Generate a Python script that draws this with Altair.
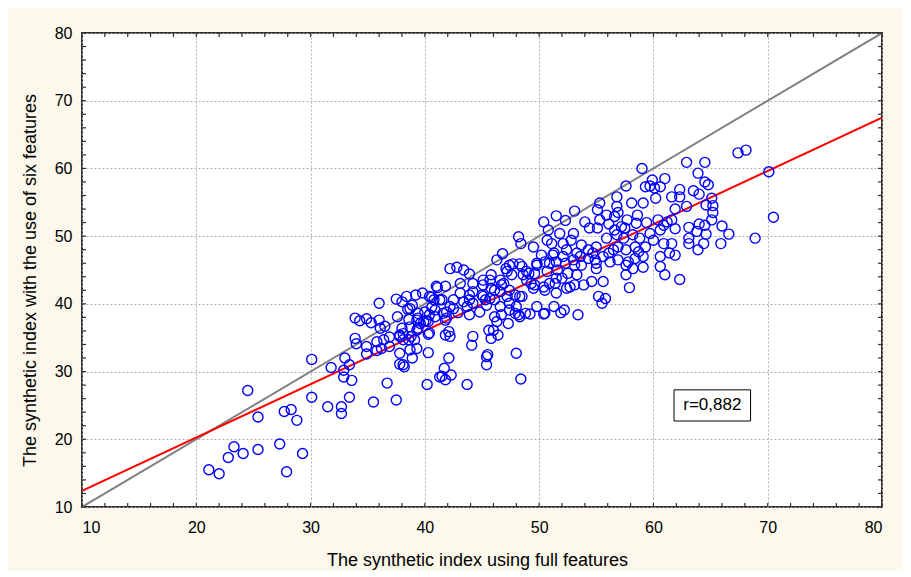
import altair as alt
import pandas as pd

# ---- scatter data (full features index, six-features index) ----
full_idx = [
21.1,22.0,22.8,23.3,24.1,24.5,25.4,25.4,27.3,27.7,28.3,28.8,27.9,29.3,30.1,30.1,31.5,31.8,32.7,32.7,
33.4,33.6,32.9,32.9,33.0,33.4,35.5,36.7,37.5,40.2,40.3,37.8,38.2,37.8,38.9,39.3,34.9,34.9,35.8,36.2,
36.9,33.9,34.0,36.4,36.9,37.8,38.6,39.1,40.3,41.3,
33.9,34.3,34.9,35.3,36.0,36.0,36.1,36.5,37.5,38.0,37.6,38.0,38.1,38.5,38.6,38.9,39.2,39.4,39.6,39.3,
39.8,40.0,40.1,40.4,40.4,41.0,41.8,40.8,41.5,40.9,40.9,41.6,41.8,42.1,41.8,42.2,42.1,41.7,41.5,41.8,
42.3,43.7,42.2,42.8,43.4,43.9,44.2,44.2,43.1,43.4,42.5,42.9,43.7,44.2,44.8,45.0,45.1,44.2,44.1,45.4,
45.4,45.6,
46.3,46.8,47.7,47.1,47.2,48.3,48.2,48.4,49.5,50.4,51.5,50.7,51.1,51.8,52.1,50.2,49.8,50.5,51.3,51.5,
52.1,48.9,49.6,50.7,51.5,51.4,50.5,49.6,49.5,49.8,50.5,51.3,52.2,52.4,45.1,45.7,45.8,46.6,46.9,46.1,
45.7,45.3,43.9,45.4,46.6,47.2,47.9,48.3,47.4,47.9,48.3,48.8,46.7,46.3,47.3,46.0,46.4,45.8,45.5,48.0,
48.4,41.9,40.4,39.9,39.3,39.4,38.8,38.1,38.4,40.6,41.1,41.3,42.2,38.7,39.4,43.1,
59.0,62.9,57.6,56.8,58.1,59.1,59.3,59.9,60.1,60.6,61.0,60.2,61.6,62.3,62.9,61.9,61.6,61.2,60.6,60.4,
59.4,58.6,57.7,56.9,56.8,55.1,55.3,55.3,56.1,55.1,54.4,53.1,52.3,50.8,53.0,53.7,52.8,51.2,52.4,53.3,
54.3,55.0,55.9,56.8,57.5,57.4,58.2,58.8,58.7,59.3,60.0,60.9,61.6,63.1,60.6,60.6,61.0,62.3,59.1,58.2,
57.6,57.6,57.9,56.2,55.6,54.9,55.0,54.3,53.7,53.3,52.5,51.6,52.3,53.1,54.6,55.6,53.9,53.1,52.7,51.5,
55.2,55.8,55.5,53.4,48.5,48.5,49.8,50.9,
67.4,68.1,70.1,70.5,68.9,66.6,66.0,65.9,64.5,63.9,64.5,64.8,63.5,64.0,65.1,64.6,65.2,65.2,65.1,64.5,
64.6,64.0,63.8,63.1,63.1,64.4,63.9,
51.9,50.4,49.2,
47.4,47.6,48.6,49.1,45.8,46.7,46.6,47.4,48.9,49.3,50.4,50.9,52.0,43.9,45.1,46.1,42.5,40.6,41.9,43.9,
46.1,47.4,48.0,48.2,
37.8,38.7,40.3,38.1,35.8,38.7,
59.7,62.3,55.9,56.6,58.5,57.2,56.6,54.0,60.9,61.9,59.7,58.4,57.6,56.9,56.5,56.1,54.7,53.6,53.0,59.1,
58.4,57.8,56.9,55.0,61.4,61.9,
]
six_idx = [
15.5,14.9,17.3,18.9,17.9,27.2,23.3,18.5,19.3,24.1,24.4,22.8,15.2,17.9,31.8,26.2,24.8,30.6,24.8,23.8,
26.2,28.7,30.2,29.2,32.0,31.0,25.5,28.3,25.8,28.1,32.8,31.1,30.7,32.7,32.0,33.4,32.6,33.7,33.1,33.4,
33.7,34.9,34.1,34.7,35.1,35.4,34.7,34.7,35.5,29.2,
37.9,37.5,37.8,37.2,37.6,40.1,36.4,36.7,40.7,40.3,38.1,36.4,35.6,39.2,37.7,39.8,41.3,37.9,37.1,36.1,
41.6,38.8,37.5,41.1,35.7,42.6,42.6,40.6,40.6,39.1,38.1,38.6,37.6,35.9,35.4,35.2,32.0,30.5,29.3,28.8,
29.5,28.1,45.2,45.4,45.0,44.4,43.0,41.8,41.6,40.3,39.3,38.7,39.6,40.1,38.8,41.3,43.5,35.2,33.9,32.2,
31.0,36.1,
46.5,47.4,45.9,45.2,44.8,45.9,49.9,48.9,48.4,52.1,53.0,49.4,48.9,50.4,48.9,47.2,46.0,46.2,47.5,46.2,
47.0,44.8,44.5,44.8,43.8,43.0,42.0,42.8,42.3,39.6,38.6,39.6,39.1,42.3,42.8,43.5,44.3,43.5,43.0,42.0,
40.8,40.6,40.6,39.8,39.6,41.1,41.3,41.1,39.1,38.6,38.1,38.6,38.4,37.4,37.1,36.1,35.4,34.9,32.5,32.7,
28.9,37.9,38.4,37.4,37.6,36.4,35.2,31.0,41.1,41.0,42.4,40.6,39.6,39.3,38.6,43.0,
60.0,60.9,57.4,55.8,54.9,54.9,57.3,58.3,57.1,57.3,58.5,55.6,55.8,56.9,54.4,54.0,52.4,52.1,50.9,52.4,
52.0,53.1,52.4,53.5,54.4,53.9,54.9,52.4,51.8,51.2,51.2,53.7,52.3,50.9,50.4,48.7,49.4,47.2,48.0,47.5,
48.0,48.4,49.7,50.2,51.2,49.7,50.2,49.7,47.7,48.4,49.4,48.9,48.9,48.9,47.0,45.5,44.3,43.6,45.4,45.2,
45.7,44.3,42.4,46.2,47.0,46.5,45.2,46.7,45.7,44.3,44.5,45.0,46.0,45.7,43.3,43.3,42.8,42.8,42.5,41.6,
41.1,40.8,40.1,38.4,41.1,45.5,45.7,46.0,
62.3,62.7,59.5,52.8,49.7,50.3,51.5,48.9,60.9,59.3,58.0,57.6,56.7,56.2,55.6,54.6,54.5,53.5,52.4,51.6,
50.3,51.8,50.7,51.3,49.7,48.9,48.0,
38.7,38.5,38.5,
45.7,44.3,44.3,44.5,42.3,42.8,41.8,42.0,43.5,43.0,42.5,43.0,43.8,41.3,41.1,40.6,40.6,39.5,38.8,38.4,
38.1,40.1,39.6,38.4,
35.2,36.6,37.4,34.7,34.4,33.2,
57.4,55.8,53.1,52.9,51.9,51.4,50.9,52.1,51.6,51.1,50.4,48.4,48.0,48.4,48.0,47.5,47.5,47.0,46.5,47.0,
46.7,46.2,46.5,46.0,47.5,47.2,
]

# ---- reference lines ----
identity_x = [10, 80]
identity_y = [10, 80]
reg_x = [10, 80]
reg_y = [12.4, 67.5]

# ---- axis ticks ----
major_ticks = [10, 20, 30, 40, 50, 60, 70, 80]
minor_ticks = [10, 12, 14, 16, 18, 20, 22, 24, 26, 28, 30, 32, 34, 36, 38, 40, 42, 44, 46, 48,
               50, 52, 54, 56, 58, 60, 62, 64, 66, 68, 70, 72, 74, 76, 78, 80]

# ---- annotation ----
r_label = ["r=0,882"]
r_pos_x = [65.15]
r_pos_y = [25.0]
box_x = [61.8]
box_x2 = [68.5]
box_y = [22.7]
box_y2 = [27.3]

W, H = 800, 474
FONT = "Liberation Sans"

xscale = alt.Scale(domain=[10, 80], nice=False, zero=False)
yscale = alt.Scale(domain=[10, 80], nice=False, zero=False)
xaxis = alt.Axis(values=major_ticks, title="The synthetic index using full features",
                 grid=True, ticks=False, domain=False, labelPadding=12,
                 titleX=395, titleY=53, titleBaseline="middle", titleAnchor="middle")
yaxis = alt.Axis(values=major_ticks, title="The synthetic index with the use of six features",
                 grid=True, ticks=False, domain=False, labelPadding=10,
                 titleX=-52, titleY=247, titleBaseline="middle", titleAnchor="middle")

X = lambda f: alt.X(f"{f}:Q", scale=xscale, axis=xaxis)
Y = lambda f: alt.Y(f"{f}:Q", scale=yscale, axis=yaxis)

pts = pd.DataFrame({"x": full_idx, "y": six_idx})
ident = pd.DataFrame({"x": identity_x, "y": identity_y})
reg = pd.DataFrame({"x": reg_x, "y": reg_y})
ticks = pd.DataFrame({"t": minor_ticks})
box = pd.DataFrame({"x": box_x, "x2": box_x2, "y": box_y, "y2": box_y2})
lab = pd.DataFrame({"x": r_pos_x, "y": r_pos_y, "label": r_label})

identity_layer = alt.Chart(ident).mark_line(color="#808080", strokeWidth=2, clip=True).encode(x=X("x"), y=Y("y"))
reg_layer = alt.Chart(reg).mark_line(color="#ff0000", strokeWidth=2, clip=True).encode(x=X("x"), y=Y("y"))
points = alt.Chart(pts).mark_point(shape="circle", filled=False, color="#0000ff",
                                   size=100, strokeWidth=1.4, opacity=1).encode(x=X("x"), y=Y("y"))
box_layer = alt.Chart(box).mark_rect(fill="white", stroke="black", strokeWidth=1).encode(
    x=X("x"), x2="x2", y=Y("y"), y2="y2")
text_layer = alt.Chart(lab).mark_text(fontSize=17, font=FONT, color="black").encode(
    x=X("x"), y=Y("y"), text="label:N")

tick_len = 4
t_bottom = alt.Chart(ticks).mark_rule(color="#303030", strokeWidth=1.2).encode(
    x=X("t"), y=alt.value(H), y2=alt.value(H - tick_len))
t_top = alt.Chart(ticks).mark_rule(color="#303030", strokeWidth=1.2).encode(
    x=X("t"), y=alt.value(0), y2=alt.value(tick_len))
t_left = alt.Chart(ticks).mark_rule(color="#303030", strokeWidth=1.2).encode(
    y=Y("t"), x=alt.value(0), x2=alt.value(tick_len))
t_right = alt.Chart(ticks).mark_rule(color="#303030", strokeWidth=1.2).encode(
    y=Y("t"), x=alt.value(W), x2=alt.value(W - tick_len))

chart = alt.layer(
    identity_layer, reg_layer, points, box_layer, text_layer,
    t_bottom, t_top, t_left, t_right
).properties(
    width=W, height=H,
    autosize=alt.AutoSizeParams(type="none"),
    padding={"left": 74, "top": 25, "right": 21, "bottom": 64},
    background="#fdf8ec",
).configure_view(
    fill="white", stroke="#303030", strokeWidth=2
).configure_axis(
    labelFont=FONT, titleFont=FONT, labelFontSize=16, titleFontSize=18,
    labelColor="black", titleColor="black", titleFontWeight="normal",
    gridColor="#b0b0b0", gridDash=[2, 2], gridWidth=1,
)

chart.save("out.html", embed_options={"renderer": "svg", "actions": False})
